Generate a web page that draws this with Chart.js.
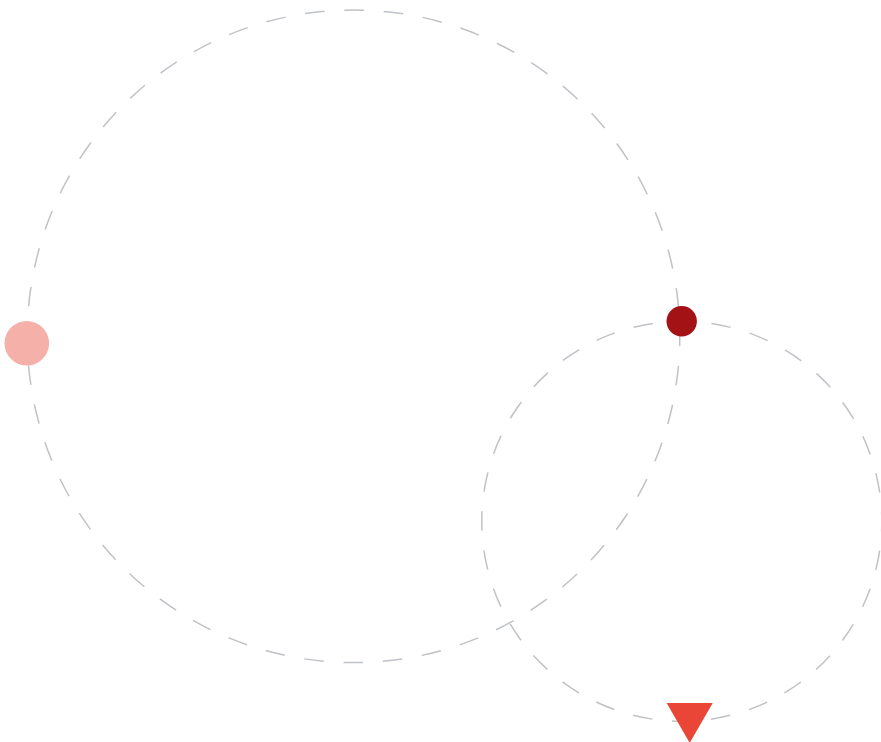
<!DOCTYPE html>
<html>
<head>
<meta charset="utf-8">
<script src="https://cdn.jsdelivr.net/npm/chart.js@4.4.1/dist/chart.umd.min.js"></script>
<style>
  html, body { margin: 0; padding: 0; background: #ffffff; }
  #wrap { width: 881px; height: 742px; position: relative; }
</style>
</head>
<body>
<div id="wrap"><canvas id="c"></canvas></div>
<script>
// ---- data ----
const ringNames   = ['outer', 'inner'];
const ringCenterX = [353.5, 681.8];
const ringCenterY = [336.3, 521.3];
const ringRadius  = [326.3, 200.0];

const markerNames = ['pink', 'dark', 'triangle'];
const markerX     = [26.8, 681.7, 689.7];
const markerY     = [343.3, 321.3, 716.3];

// ---- styles ----
const markerStyles = [
  { color: '#f5b0aa', radius: 22.3, pointStyle: 'circle', rotation: 0 },
  { color: '#a31214', radius: 15.2, pointStyle: 'circle', rotation: 0 },
  { color: '#e94637', radius: 26.6, pointStyle: 'triangle', rotation: 180 }
];
const ringStyle = { color: '#bfc2c6', width: 1.5, period: 39.4 };

const ringsPlugin = {
  id: 'rings',
  beforeDatasetsDraw(chart) {
    const { ctx, scales: { x, y } } = chart;
    ctx.save();
    ctx.strokeStyle = ringStyle.color;
    ctx.lineWidth = ringStyle.width;
    for (let i = 0; i < ringNames.length; i++) {
      const px = x.getPixelForValue(ringCenterX[i]);
      const py = y.getPixelForValue(ringCenterY[i]);
      const rx = Math.abs(x.getPixelForValue(ringCenterX[i] + ringRadius[i]) - px);
      const ry = Math.abs(y.getPixelForValue(ringCenterY[i] + ringRadius[i]) - py);
      const circ = Math.PI * (rx + ry);
      const n = Math.round(circ / ringStyle.period / 4) * 4;
      const d = circ / n / 2;
      ctx.setLineDash([d, d]);
      ctx.lineDashOffset = d / 2;
      ctx.beginPath();
      ctx.ellipse(px, py, rx, ry, 0, 0, Math.PI * 2);
      ctx.stroke();
    }
    ctx.restore();
  }
};

const datasets = markerNames.map((name, i) => ({
  label: name,
  data: [{ x: markerX[i], y: markerY[i] }],
  pointStyle: markerStyles[i].pointStyle,
  rotation: markerStyles[i].rotation,
  pointRadius: markerStyles[i].radius,
  pointHoverRadius: markerStyles[i].radius,
  backgroundColor: markerStyles[i].color,
  borderColor: markerStyles[i].color,
  borderWidth: 0,
  pointBorderWidth: 0,
  clip: false
}));

new Chart(document.getElementById('c'), {
  type: 'scatter',
  data: { datasets },
  options: {
    responsive: true,
    maintainAspectRatio: false,
    animation: false,
    layout: { padding: 0, autoPadding: false },
    plugins: { legend: { display: false }, tooltip: { enabled: false } },
    events: [],
    scales: {
      x: { type: 'linear', min: 0, max: 881, display: false },
      y: { type: 'linear', min: 0, max: 742, reverse: true, display: false }
    }
  },
  plugins: [ringsPlugin]
});
</script>
</body>
</html>
